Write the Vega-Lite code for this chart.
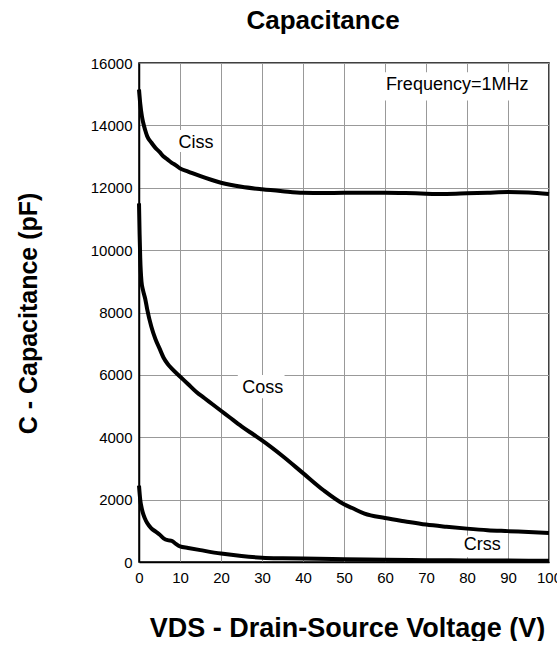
{
  "$schema": "https://vega.github.io/schema/vega-lite/v6.json",
  "width": 410,
  "height": 499,
  "padding": {"left": 16, "top": 8, "right": 0, "bottom": 0},
  "background": "white",
  "config": {
    "font": "Liberation Sans",
    "view": {"stroke": "black", "strokeWidth": 1.5},
    "axis": {
      "labelFont": "Liberation Sans", "titleFont": "Liberation Sans", "labelColor": "black", "titleColor": "black",
      "domainColor": "black", "domainWidth": 1.5,
      "labelFontSize": 15, "labelFlush": false, "labelOverlap": false, "titleFontWeight": "bold"
    }
  },
  "title": {
    "text": "Capacitance",
    "fontSize": 26,
    "fontWeight": "bold",
    "font": "Liberation Sans",
    "anchor": "middle",
    "dx": -21,
    "offset": 22,
    "color": "black"
  },
  "datasets": {
    "curves": [
      {"s": "Ciss", "v": 0, "c": 15150}, {"s": "Ciss", "v": 0.3, "c": 14700}, {"s": "Ciss", "v": 0.7, "c": 14300},
      {"s": "Ciss", "v": 1, "c": 14100}, {"s": "Ciss", "v": 1.5, "c": 13850}, {"s": "Ciss", "v": 2, "c": 13650},
      {"s": "Ciss", "v": 3, "c": 13450}, {"s": "Ciss", "v": 4, "c": 13280}, {"s": "Ciss", "v": 5, "c": 13150},
      {"s": "Ciss", "v": 6, "c": 13000}, {"s": "Ciss", "v": 7, "c": 12900}, {"s": "Ciss", "v": 8, "c": 12800},
      {"s": "Ciss", "v": 9, "c": 12720}, {"s": "Ciss", "v": 10, "c": 12620}, {"s": "Ciss", "v": 12, "c": 12520},
      {"s": "Ciss", "v": 15, "c": 12370}, {"s": "Ciss", "v": 20, "c": 12160}, {"s": "Ciss", "v": 25, "c": 12030},
      {"s": "Ciss", "v": 30, "c": 11950}, {"s": "Ciss", "v": 35, "c": 11890}, {"s": "Ciss", "v": 40, "c": 11840},
      {"s": "Ciss", "v": 45, "c": 11830}, {"s": "Ciss", "v": 50, "c": 11840}, {"s": "Ciss", "v": 55, "c": 11840},
      {"s": "Ciss", "v": 60, "c": 11840}, {"s": "Ciss", "v": 65, "c": 11830}, {"s": "Ciss", "v": 70, "c": 11810},
      {"s": "Ciss", "v": 75, "c": 11800}, {"s": "Ciss", "v": 80, "c": 11820}, {"s": "Ciss", "v": 85, "c": 11840},
      {"s": "Ciss", "v": 90, "c": 11860}, {"s": "Ciss", "v": 95, "c": 11850}, {"s": "Ciss", "v": 100, "c": 11800},
      {"s": "Coss", "v": 0, "c": 11500}, {"s": "Coss", "v": 0.15, "c": 10500}, {"s": "Coss", "v": 0.3, "c": 9750},
      {"s": "Coss", "v": 0.6, "c": 9000}, {"s": "Coss", "v": 1, "c": 8700}, {"s": "Coss", "v": 1.5, "c": 8450},
      {"s": "Coss", "v": 2, "c": 8100}, {"s": "Coss", "v": 3, "c": 7550}, {"s": "Coss", "v": 4, "c": 7150},
      {"s": "Coss", "v": 5, "c": 6850}, {"s": "Coss", "v": 6, "c": 6550}, {"s": "Coss", "v": 7, "c": 6350},
      {"s": "Coss", "v": 8, "c": 6200}, {"s": "Coss", "v": 10, "c": 5950}, {"s": "Coss", "v": 12, "c": 5700},
      {"s": "Coss", "v": 14, "c": 5450}, {"s": "Coss", "v": 16, "c": 5250}, {"s": "Coss", "v": 18, "c": 5050},
      {"s": "Coss", "v": 20, "c": 4850}, {"s": "Coss", "v": 22, "c": 4650}, {"s": "Coss", "v": 25, "c": 4350},
      {"s": "Coss", "v": 28, "c": 4080}, {"s": "Coss", "v": 30, "c": 3900}, {"s": "Coss", "v": 35, "c": 3400},
      {"s": "Coss", "v": 40, "c": 2850}, {"s": "Coss", "v": 45, "c": 2300}, {"s": "Coss", "v": 50, "c": 1850},
      {"s": "Coss", "v": 52, "c": 1730}, {"s": "Coss", "v": 55, "c": 1550}, {"s": "Coss", "v": 60, "c": 1410},
      {"s": "Coss", "v": 65, "c": 1300}, {"s": "Coss", "v": 70, "c": 1200}, {"s": "Coss", "v": 75, "c": 1130},
      {"s": "Coss", "v": 80, "c": 1070}, {"s": "Coss", "v": 85, "c": 1020}, {"s": "Coss", "v": 90, "c": 990},
      {"s": "Coss", "v": 95, "c": 960}, {"s": "Coss", "v": 100, "c": 930},
      {"s": "Crss", "v": 0, "c": 2450}, {"s": "Crss", "v": 0.3, "c": 2000}, {"s": "Crss", "v": 0.7, "c": 1700},
      {"s": "Crss", "v": 1, "c": 1550}, {"s": "Crss", "v": 1.5, "c": 1380}, {"s": "Crss", "v": 2, "c": 1250},
      {"s": "Crss", "v": 3, "c": 1080}, {"s": "Crss", "v": 4, "c": 980}, {"s": "Crss", "v": 5, "c": 880},
      {"s": "Crss", "v": 6, "c": 760}, {"s": "Crss", "v": 7, "c": 700}, {"s": "Crss", "v": 8, "c": 680},
      {"s": "Crss", "v": 9, "c": 580}, {"s": "Crss", "v": 10, "c": 500}, {"s": "Crss", "v": 12, "c": 450},
      {"s": "Crss", "v": 15, "c": 380}, {"s": "Crss", "v": 20, "c": 270}, {"s": "Crss", "v": 25, "c": 190},
      {"s": "Crss", "v": 30, "c": 140}, {"s": "Crss", "v": 35, "c": 120}, {"s": "Crss", "v": 40, "c": 110},
      {"s": "Crss", "v": 50, "c": 90}, {"s": "Crss", "v": 60, "c": 75}, {"s": "Crss", "v": 70, "c": 60},
      {"s": "Crss", "v": 80, "c": 50}, {"s": "Crss", "v": 90, "c": 45}, {"s": "Crss", "v": 100, "c": 40}
    ],
    "labels": [
      {"t": "Ciss", "x": 13.9, "y": 13450, "x1": 8.8, "x2": 19.0, "y1": 13150, "y2": 13850},
      {"t": "Coss", "x": 30.2, "y": 5570, "x1": 24.1, "x2": 35.5, "y1": 5250, "y2": 6000},
      {"t": "Crss", "x": 83.7, "y": 540, "x1": 77.6, "x2": 89.8, "y1": 150, "y2": 850},
      {"t": "Frequency=1MHz", "x": 77.6, "y": 15280, "x1": 57.6, "x2": 97.1, "y1": 14800, "y2": 15700}
    ]
  },
  "layer": [
    {
      "data": {"name": "curves"},
      "mark": {"type": "line", "color": "black", "strokeWidth": 4, "interpolate": "monotone"},
      "encoding": {
        "x": {"field": "v", "type": "quantitative", "scale": {"domain": [0, 100], "nice": false},
          "axis": {
            "values": [0, 5, 10, 15, 20, 25, 30, 35, 40, 45, 50, 55, 60, 65, 70, 75, 80, 85, 90, 95, 100],
            "labelExpr": "datum.value % 10 === 0 ? datum.label : ''",
            "labelPadding": 8, "ticks": false,
            "grid": true, "gridColor": "#999999", "gridWidth": 1, "gridOpacity": 1,
            "title": "VDS - Drain-Source Voltage (V)", "titleFontSize": 27,
            "titleY": 66, "titleBaseline": "middle", "titleX": 208
          }},
        "y": {"field": "c", "type": "quantitative", "scale": {"domain": [0, 16000], "nice": false},
          "axis": {
            "values": [0, 1000, 2000, 3000, 4000, 5000, 6000, 7000, 8000, 9000, 10000, 11000, 12000, 13000, 14000, 15000, 16000],
            "labelExpr": "datum.value % 2000 === 0 ? datum.label : ''",
            "labelPadding": 7, "format": "d", "ticks": false,
            "grid": true, "gridColor": "#999999", "gridWidth": 1, "gridOpacity": 1,
            "title": "C - Capacitance (pF)", "titleFontSize": 25,
            "titleX": -111, "titleY": 250, "titleBaseline": "middle", "titleAngle": -90
          }},
        "detail": {"field": "s"}
      }
    },
    {
      "data": {"name": "labels"},
      "mark": {"type": "rect", "fill": "white", "stroke": null},
      "encoding": {
        "x": {"field": "x1", "type": "quantitative"},
        "x2": {"field": "x2"},
        "y": {"field": "y1", "type": "quantitative"},
        "y2": {"field": "y2"}
      }
    },
    {
      "data": {"name": "labels"},
      "mark": {"type": "text", "fontSize": 18, "color": "black", "font": "Liberation Sans", "baseline": "middle", "align": "center"},
      "encoding": {
        "x": {"field": "x", "type": "quantitative"},
        "y": {"field": "y", "type": "quantitative"},
        "text": {"field": "t"}
      }
    }
  ]
}
